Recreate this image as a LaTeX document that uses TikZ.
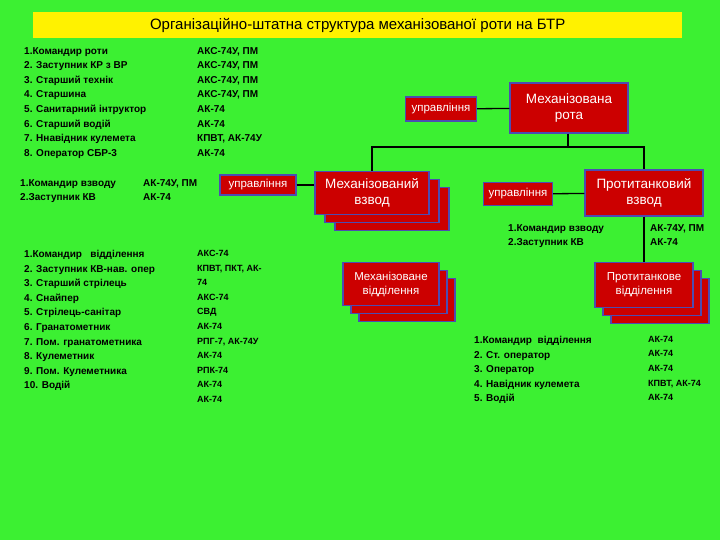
\documentclass[tikz,border=0pt]{standalone}
\usepackage{fontspec}
\setmainfont{Liberation Sans}
\begin{document}
\begin{tikzpicture}[x=1pt,y=-1pt,
  box/.style={draw=blue!40!gray,line width=1.2pt,fill=red!80!black,text=white,align=center,font=\fontsize{13.5}{16}\selectfont,inner sep=1pt},
  sbox/.style={box,font=\fontsize{11.5}{14}\selectfont},
  lst/.style={anchor=north west,align=left,font=\bfseries\fontsize{10}{14.6}\selectfont,inner sep=0pt},
  ln/.style={line width=1.3pt}]
\fill[fill={rgb,255:red,60;green,240;blue,50}] (0,0) rectangle (720,540);
\node[fill=yellow,minimum width=649pt,minimum height=26pt,anchor=north west,font=\fontsize{15}{17}\selectfont,inner sep=0pt] (title) at (33,12) {Організаційно-штатна структура механізованої роти на БТР};
% left top lists
\node[lst] (l1) at (24,47) {1.Командир роти\\2. Заступник КР з ВР\\3. Старший технік\\4. Старшина\\5. Санитарний інтруктор\\6. Старший водій\\7. Ннавідник кулемета\\8. Оператор СБР-3};
\node[lst] (w1) at (197,47) {АКС-74У, ПМ\\АКС-74У, ПМ\\АКС-74У, ПМ\\АКС-74У, ПМ\\АК-74\\АК-74\\КПВТ, АК-74У\\АК-74};
\node[lst] (l2) at (20,179) {1.Командир взводу\\2.Заступник КВ};
\node[lst] (w2) at (143,179) {АК-74У, ПМ\\АК-74};
\node[lst] (l3) at (24,250) {1.Командир \ \ відділення\\2. Заступник КВ-нав. опер\\3. Старший стрілець\\4. Снайпер\\5. Стрілець-санітар\\6. Гранатометник\\7. Пом. гранатометника\\8. Кулеметник\\9. Пом. Кулеметника\\10. Водій};
\node[lst,font=\bfseries\fontsize{9}{14.6}\selectfont] (w3) at (197,250) {АКС-74\\КПВТ, ПКТ, АК-\\74\\АКС-74\\СВД\\АК-74\\РПГ-7, АК-74У\\АК-74\\РПК-74\\АК-74\\АК-74};
\node[lst] (l4) at (508,224) {1.Командир взводу\\2.Заступник КВ};
\node[lst] (w4) at (650,224) {АК-74У, ПМ\\АК-74};
\node[lst] (l5) at (474,336) {1.Командир \ відділення\\2. Ст. оператор\\3. Оператор\\4. Навідник кулемета\\5. Водій};
\node[lst,font=\bfseries\fontsize{9}{14.6}\selectfont] (w5) at (648,336) {АК-74\\АК-74\\АК-74\\КПВТ, АК-74\\АК-74};
% boxes
\node[box,minimum width=118pt,minimum height=50pt] (rota) at (569,108) {Механізована\\рота};
\node[sbox,minimum width=71pt,minimum height=24pt] (u1) at (441,109) {управління};
\draw[ln] (u1) -- (rota);
\foreach \dx/\dy in {20/16,10/8}{\node[box,minimum width=114pt,minimum height=43pt] at (372+\dx,193+\dy) {};}
\node[box,minimum width=114pt,minimum height=43pt] (vzv) at (372,193) {Механізований\\взвод};
\node[sbox,minimum width=76pt,minimum height=20pt] (u2) at (258,185) {управління};
\draw[ln] (u2.east) -- (u2.east -| vzv.west);
\node[box,minimum width=118pt,minimum height=46pt] (ptv) at (644,193) {Протитанковий\\взвод};
\node[sbox,minimum width=69pt,minimum height=23pt] (u3) at (518,194) {управління};
\draw[ln] (u3) -- (ptv);
\foreach \dx/\dy in {16/16,8/8}{\node[box,minimum width=96pt,minimum height=43pt] at (391+\dx,284+\dy) {};
  \node[box,minimum width=98pt,minimum height=45pt] at (644+\dx,285+\dy) {};}
\node[sbox,minimum width=96pt,minimum height=43pt] (mvid) at (391,284) {Механізоване\\відділення};
\node[sbox,minimum width=98pt,minimum height=45pt] (pvid) at (644,285) {Протитанкове\\відділення};
% connectors
\coordinate (j) at (568,147);
\draw[ln] (rota.south -| j) -- (j);
\draw[ln] (vzv.north) |- (j) -| (ptv.north);
\draw[ln] (ptv.south) -- (pvid.north);
\end{tikzpicture}
\end{document}
